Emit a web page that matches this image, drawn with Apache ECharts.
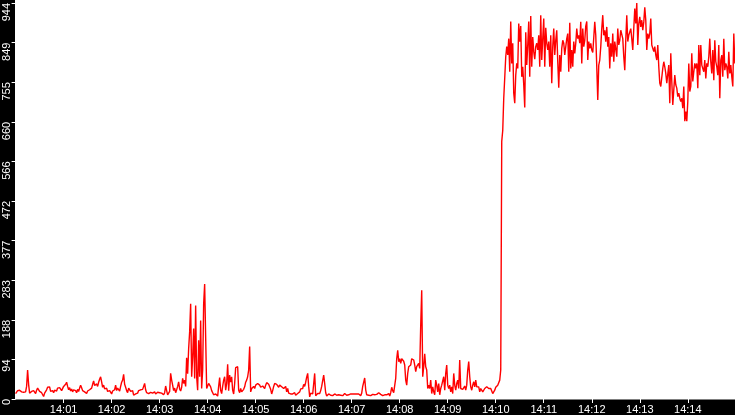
<!DOCTYPE html>
<html>
<head>
<meta charset="utf-8">
<script src="https://cdn.jsdelivr.net/npm/echarts@6/dist/echarts.min.js"></script>
<style>
  html, body { margin: 0; padding: 0; background: #fff; }
  #chart { width: 735px; height: 415px; }
</style>
</head>
<body>
<div id="chart"></div>
<script>
// Sampling of the series (seconds after 14:00:00)
const startSec = 0;
const stepSec = 1.25;
const axisMinSec = -2;
const axisMaxSec = 899;
const minuteTicksSec = [60, 120, 180, 240, 300, 360, 420, 480, 540, 600, 660, 720, 780, 840];
const hourLabel = '14';

// Y axis
const yMax = 944;
const yStep = 94.4;

// Series values, in consecutive pieces
const segA = [13, 15, 20, 24, 21, 18, 17, 15, 16, 14, 17, 30, 69, 35, 14, 12,
  18, 15, 20, 17, 13, 21, 26, 24, 18, 22, 15, 12, 6, 14, 17, 22, 28, 24, 29, 18,
  22, 20, 15, 21, 25, 19, 26, 22, 27, 29, 20, 24, 30, 26, 35, 40, 30,
  22, 27, 19, 24, 17, 22, 25, 20, 15, 23, 18, 26, 33, 27, 20, 24, 17, 21, 13, 19, 16, 22,
  20, 26, 35, 43, 32, 28, 36, 30, 40, 47, 53, 41, 28, 33, 24, 21, 26, 18,
  14, 20, 16, 12, 19, 15, 22, 33, 20, 26, 24, 19, 30, 40, 45, 59, 35, 28, 20, 15, 26, 23,
  18, 22, 20, 9, 5];
const segB = [12, 16, 14, 20, 19, 22, 18, 23, 26, 37, 22, 15, 19, 13, 12, 16, 20, 14, 13, 17,
  12, 14, 16, 13, 15, 11, 14, 12, 10, 15,
  31, 20, 10, 14, 18, 61, 45, 33, 20, 26, 15, 22, 30, 41, 24, 19, 28, 49, 37, 45, 30,
  98, 60, 120, 160, 227, 53, 100, 168, 49, 223, 53, 21, 140, 53, 187, 25, 69, 227, 274, 148, 25,
  25, 37, 33, 29, 20, 17, 10, 11, 12, 9, 7, 30, 51, 21, 13, 30, 45, 53, 21, 37,
  83, 20, 57, 40, 53, 21, 12, 37, 75, 78, 77, 21, 15, 25, 17, 20, 23, 29, 40, 45,
  53, 69, 125, 17, 25, 27, 30, 25, 33, 37];
const segC = [37, 35, 33, 28, 25, 31, 33, 25, 33, 39, 36, 35, 31, 23, 12, 20, 30, 37, 34, 35,
  39, 28, 33, 30, 29, 32, 25, 28, 30, 17, 25, 14, 10, 12, 15, 12, 14, 15, 9, 7,
  13, 15, 17, 24, 28, 25, 35, 30, 40, 52, 61, 30, 5, 14, 10, 12, 36, 61, 8, 10,
  13, 12, 13, 20, 30, 44, 57, 37, 15, 7,
  10, 12, 11, 9, 12, 8, 10, 12, 13, 9, 7, 10, 12, 9, 11, 8, 10, 13, 11, 9, 12, 10, 8, 12, 11,
  12, 10, 12, 9, 12, 10, 12, 11, 8, 14, 30, 40, 50, 22, 10, 7, 9, 12, 8, 7, 11, 9, 10, 12, 11, 13, 15];
const segD = [13, 11, 10, 8, 7, 10, 10, 10, 12, 13, 7, 15, 28, 20, 15, 13, 49, 96, 116, 89,
  96, 85, 96, 93, 90, 81, 45, 33, 61, 77, 73, 81, 96, 93, 93, 81, 65, 77, 81, 85,
  73, 176, 259, 53, 77, 108, 77, 69, 25, 33, 25, 45, 13, 29, 17, 10, 45, 33, 17, 37,
  10, 25, 33, 33, 53, 21, 61, 81, 33, 25, 33, 17, 29, 13, 61, 33, 21, 37, 45, 25,
  93, 25, 23, 23, 25, 31, 21, 33, 69, 89, 53, 29, 21, 33, 41, 29, 45, 29, 25, 29,
  17, 25, 23, 17, 13, 25, 21, 29, 25, 25, 29, 25, 21, 13, 15, 21, 28, 29, 33, 37,
  45, 69, 614, 640, 717, 766];
const segE = [816, 840, 820, 859, 780, 900, 800, 848, 729, 705,
  772, 800, 788, 895, 852, 889, 768, 792, 749, 695,
  874, 796, 844, 900, 768, 913, 792, 863, 828, 810,
  840, 848, 832, 867, 792, 915, 808, 859, 907, 792,
  885, 848, 832, 852, 792, 867, 753, 840, 883, 820,
  855, 879, 804, 742, 820, 780, 836, 855, 848, 820,
  816, 859, 871, 780, 897, 788, 832, 792, 852, 824,
  848, 883, 859, 867, 848, 899, 800, 883, 840, 855,
  889, 900, 808, 852, 836, 848, 832, 826, 861, 899,
  867, 792, 713, 796, 808, 840, 883, 915, 867, 879,
  852, 887, 840, 863, 788, 848, 816, 871, 804, 852,
  848, 816, 883, 844, 855, 879, 883, 859, 816, 784,
  855, 915, 852, 867, 871, 883, 859, 832, 883, 931,
  895, 944, 844, 895, 911, 887, 903, 879, 899, 934,
  903, 832, 871, 859, 871, 907, 844, 840, 828, 840,
  820, 808, 844, 792, 753, 745, 741, 788, 804, 792,
  776, 753, 757, 796, 705, 824, 757, 701, 737, 772,
  749, 741, 721, 729, 717, 709, 717, 693, 745, 662,
  685, 662, 709, 800, 733, 745, 824, 757, 780, 800,
  788, 800, 741, 844, 772, 844, 796, 800, 780, 808,
  764, 800, 792, 816, 859, 804, 776, 832, 760, 855,
  804, 792, 772, 844, 717, 808, 820, 768, 859, 784,
  800, 792, 764, 828, 776, 796, 768, 745, 871, 800];

const values = [].concat(segA, segB, segC, segD, segE);
const seriesData = values.map((v, i) => [startSec + i * stepSec, v]);

const chart = echarts.init(document.getElementById('chart'), null, { renderer: 'canvas' });
const labelFont = 'Liberation Sans, Arial, sans-serif';

chart.setOption({
  animation: false,
  backgroundColor: '#ffffff',
  graphic: {
    elements: [
      { type: 'rect', silent: true, z: 1, shape: { x: 0, y: 0, width: 15, height: 415 }, style: { fill: '#000000' } },
      { type: 'rect', silent: true, z: 1, shape: { x: 0, y: 399.5, width: 735, height: 16 }, style: { fill: '#000000' } }
    ]
  },
  grid: { left: 14, right: 0, top: 1, bottom: 16, containLabel: false },
  xAxis: {
    type: 'value',
    min: axisMinSec,
    max: axisMaxSec,
    z: 10,
    axisLine: { show: false },
    splitLine: { show: false },
    axisTick: {
      show: true,
      customValues: minuteTicksSec,
      length: 4,
      lineStyle: { color: '#ffffff', width: 1 }
    },
    axisLabel: {
      customValues: minuteTicksSec,
      color: '#ffffff',
      fontSize: 11,
      fontFamily: labelFont,
      margin: 5,
      formatter: (v) => hourLabel + ':' + String(Math.round(v / 60)).padStart(2, '0')
    }
  },
  yAxis: {
    type: 'value',
    min: 0,
    max: yMax,
    interval: yStep,
    z: 10,
    axisLine: { show: false },
    splitLine: { show: false },
    axisTick: { show: true, length: 4, lineStyle: { color: '#ffffff', width: 1 } },
    axisLabel: {
      color: '#ffffff',
      fontSize: 11,
      fontFamily: labelFont,
      rotate: 90,
      align: 'right',
      verticalAlign: 'middle',
      margin: 7,
      formatter: (v) => String(Math.floor(v + 1e-6))
    }
  },
  series: [{
    type: 'line',
    data: seriesData,
    showSymbol: false,
    symbol: 'none',
    z: 2,
    lineStyle: { color: '#ff0000', width: 1.4 },
    emphasis: { disabled: true }
  }]
});
</script>
</body>
</html>
